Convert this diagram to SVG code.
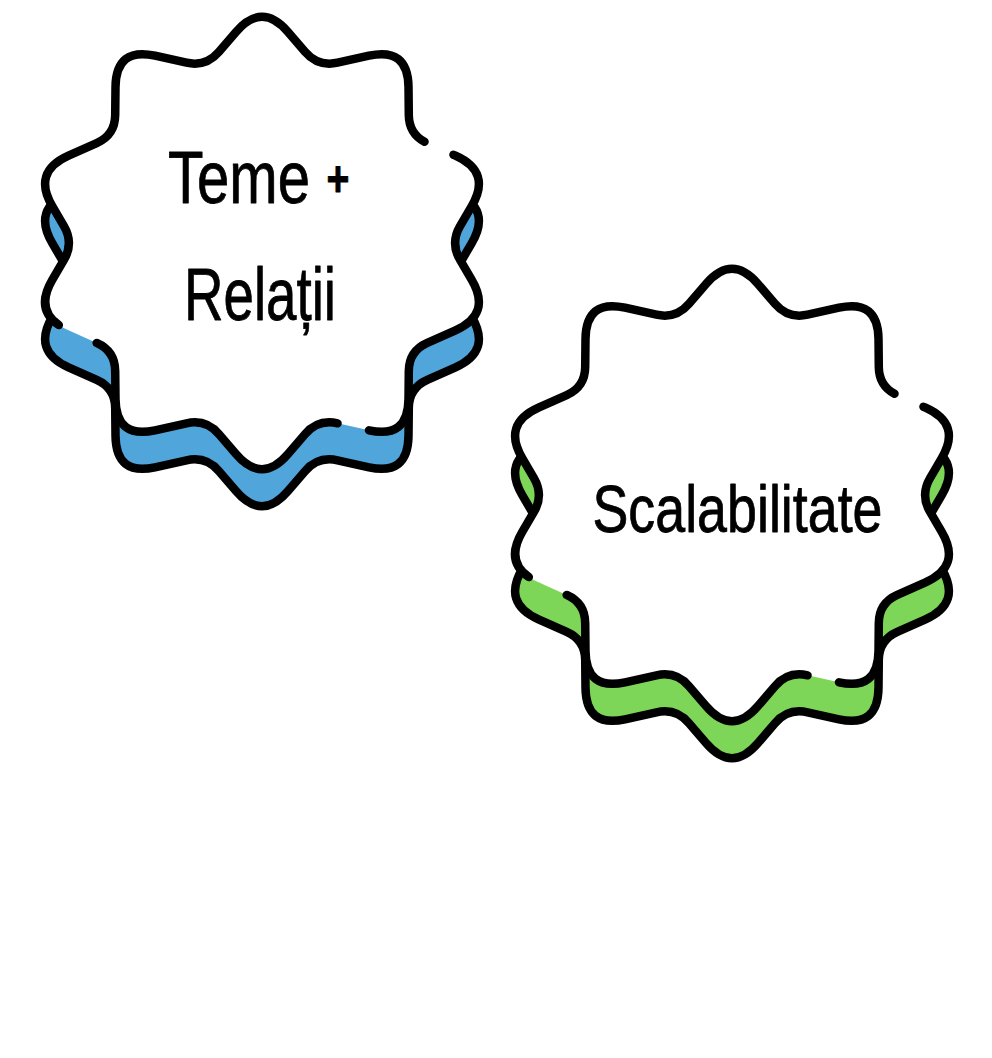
<svg xmlns="http://www.w3.org/2000/svg" xmlns:xlink="http://www.w3.org/1999/xlink" width="992" height="1058" viewBox="0 0 992 1058">
<style>
.base{stroke:#000;stroke-width:8.5;stroke-linejoin:round;stroke-linecap:round}
.blue{fill:#50a5da}
.green{fill:#7dd657}
.face{fill:#fff;stroke:none}
.edge{fill:none;stroke:#000;stroke-width:8.5;stroke-linecap:round;stroke-linejoin:round}
.lbl{font-family:"Liberation Sans",Arial,sans-serif;fill:#000;stroke:#000;stroke-width:0.8;stroke-linejoin:round}
.plus{font-weight:bold}
</style>
<defs>
<path id="shape" d="M236,31.9 Q262,1.5 288,31.9 L305,51.8 Q318,67 337.5,62.7 L369,55.7 Q408,47 408.5,87 L408.8,115 Q409,135 427.3,143.1 L455.5,155.7 Q492,172 471.6,206.4 L460.2,225.8 Q450,243 460.2,260.2 L471.6,279.6 Q492,314 455.5,330.3 L427.3,342.9 Q409,351 408.8,371 L408.5,399 Q408,439 369,430.3 L337.5,423.3 Q318,419 305,434.2 L288,454.1 Q262,484.5 236,454.1 L219,434.2 Q206,419 186.5,423.3 L155,430.3 Q116,439 115.5,399 L115.2,371 Q115,351 96.7,342.9 L68.5,330.3 Q32,314 52.4,279.6 L63.8,260.2 Q74,243 63.8,225.8 L52.4,206.4 Q32,172 68.5,155.7 L96.7,143.1 Q115,135 115.2,115 L115.5,87 Q116,47 155,55.7 L186.5,62.7 Q206,67 219,51.8 Z"/>
<path id="outline" d="M453.5,154.8 L455.5,155.7 Q492,172 471.6,206.4 L460.2,225.8 Q450,243 460.2,260.2 L471.6,279.6 Q492,314 455.5,330.3 L427.3,342.9 Q409,351 408.8,371 L408.5,399 Q408,439 369,430.3 M337.5,423.3 Q318,419 305,434.2 L288,454.1 Q262,484.5 236,454.1 L219,434.2 Q206,419 186.5,423.3 L155,430.3 Q116,439 115.5,399 L115.2,371 Q115,351 96.7,342.9 M58.8,325 Q35.1,308.8 52.4,279.6 L63.8,260.2 Q74,243 63.8,225.8 L52.4,206.4 Q32,172 68.5,155.7 L96.7,143.1 Q115,135 115.2,115 L115.5,87 Q116,47 155,55.7 L186.5,62.7 Q206,67 219,51.8 L236,31.9 Q262,1.5 288,31.9 L305,51.8 Q318,67 337.5,62.7 L369,55.7 Q408,47 408.5,87 L408.8,115 Q409,133.4 424.5,141.8"/>
</defs>
<g id="node-teme-relatii">
<use xlink:href="#shape" href="#shape" class="base blue" transform="translate(0,37)"/>
<use xlink:href="#shape" href="#shape" class="face"/>
<use xlink:href="#outline" href="#outline" class="edge"/>
<text class="lbl" transform="translate(168,203) scale(0.785,1)" x="0" y="0" font-size="74">Teme<tspan class="plus" font-size="50" dx="7" dy="-7.5"> +</tspan></text>
<text class="lbl" x="184" y="320" font-size="74" textLength="152" lengthAdjust="spacingAndGlyphs">Relații</text>
</g>
<g id="node-scalabilitate" transform="translate(470,252)">
<use xlink:href="#shape" href="#shape" class="base green" transform="translate(0,37)"/>
<use xlink:href="#shape" href="#shape" class="face"/>
<use xlink:href="#outline" href="#outline" class="edge"/>
<text class="lbl" x="122.5" y="280" font-size="66" textLength="290" lengthAdjust="spacingAndGlyphs">Scalabilitate</text>
</g>
<g id="connectors"/>
</svg>
